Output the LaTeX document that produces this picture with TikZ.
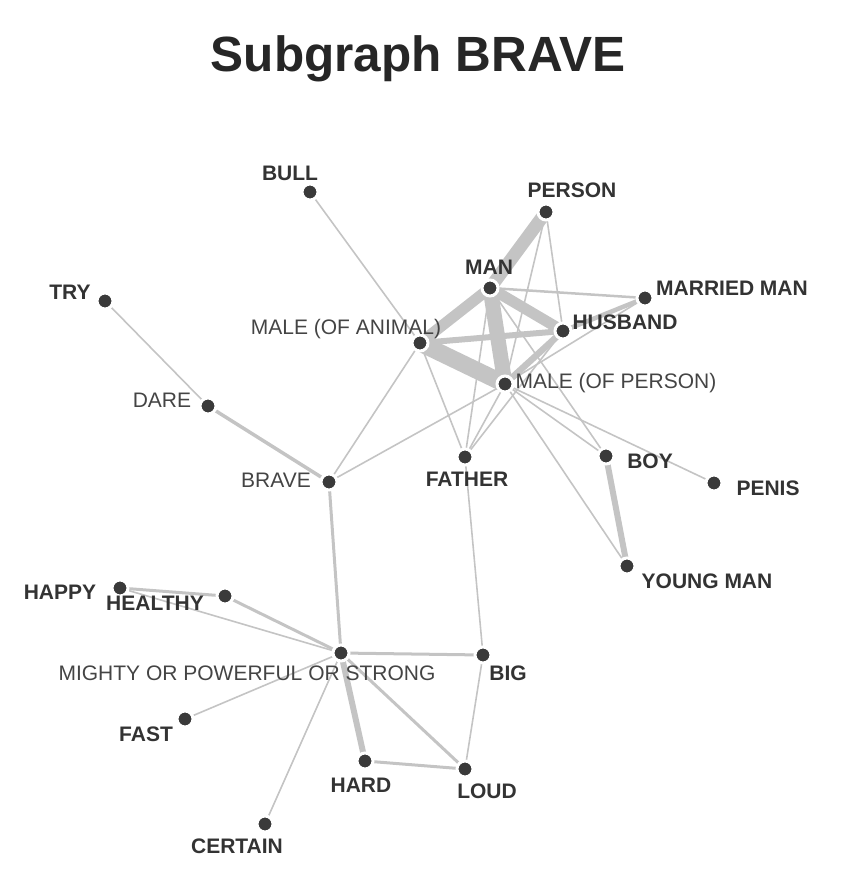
\documentclass[tikz,border=0pt]{standalone}
\usepackage{fontspec}
\setmainfont{Liberation Sans}
\usetikzlibrary{backgrounds}
\definecolor{edgec}{HTML}{C4C4C4}
\definecolor{dotc}{HTML}{3A3A3A}
\definecolor{txtc}{HTML}{333333}
\definecolor{txtl}{HTML}{444444}
\tikzset{
  dot/.style={circle,fill=dotc,draw=white,line width=3pt,minimum size=16pt,inner sep=0pt},
  lb/.style={anchor=base,text=txtc,font=\fontsize{21}{24}\selectfont\bfseries,inner sep=0pt},
  ln/.style={anchor=base,text=txtl,font=\fontsize{21}{24}\selectfont,inner sep=0pt},
  e/.style={draw=edgec,line width=1.6pt},
  em/.style={draw=edgec,line width=3.5pt},
  ew/.style={draw=edgec,line width=#1},
}
\begin{document}
\begin{tikzpicture}[x=1pt,y=-1pt]
\useasboundingbox (0,0) rectangle (840,882);
\node[anchor=base,text=black!85,font=\fontsize{49.5}{55}\selectfont\bfseries,inner sep=0pt] (title) at (418,72) {Subgraph BRAVE};
% nodes
\node[dot] (bull) at (310,192) {};
\node[dot] (person) at (546,212) {};
\node[dot] (try) at (105,301) {};
\node[dot] (man) at (490,288) {};
\node[dot] (married) at (645,298) {};
\node[dot] (husband) at (563,331) {};
\node[dot] (maleA) at (420,343) {};
\node[dot] (maleP) at (505,384) {};
\node[dot] (dare) at (208,406) {};
\node[dot] (boy) at (606,456) {};
\node[dot] (brave) at (329,482) {};
\node[dot] (father) at (465,457) {};
\node[dot] (penis) at (714,483) {};
\node[dot] (young) at (627,566) {};
\node[dot] (happy) at (120,588) {};
\node[dot] (healthy) at (225,596) {};
\node[dot] (mighty) at (341,653) {};
\node[dot] (big) at (483,655) {};
\node[dot] (fast) at (185,719) {};
\node[dot] (hard) at (365,761) {};
\node[dot] (loud) at (465,769) {};
\node[dot] (certain) at (265,824) {};
% labels
\node[lb] (tbull) at (290,181) {BULL};
\node[lb] (tperson) at (572,198) {PERSON};
\node[lb] (ttry) at (70,299) {TRY};
\node[lb] (tman) at (489,274) {MAN};
\node[lb] (tmarried) at (732,295) {MARRIED MAN};
\node[lb] (thusband) at (625,329) {HUSBAND};
\node[ln] (tmaleA) at (346,334) {MALE (OF ANIMAL)};
\node[ln] (tmaleP) at (616,388) {MALE (OF PERSON)};
\node[ln] (tdare) at (162,407) {DARE};
\node[lb] (tboy) at (650,468) {BOY};
\node[ln] (tbrave) at (276,487) {BRAVE};
\node[lb] (tfather) at (467,486) {FATHER};
\node[lb] (tpenis) at (768,495) {PENIS};
\node[lb] (tyoung) at (707,588) {YOUNG MAN};
\node[lb] (thappy) at (60,599) {HAPPY};
\node[lb] (thealthy) at (155,610) {HEALTHY};
\node[ln] (tmighty) at (247,680) {MIGHTY OR POWERFUL OR STRONG};
\node[lb] (tbig) at (508,680) {BIG};
\node[lb] (tfast) at (146,741) {FAST};
\node[lb] (thard) at (361,792) {HARD};
\node[lb] (tloud) at (487,798) {LOUD};
\node[lb] (tcertain) at (237,853) {CERTAIN};
% edges
\begin{scope}[on background layer]
\path[e] (bull.center) -- (maleA.center);
\path[ew=13pt] (person.center) -- (man.center);
\path[e] (person.center) -- (husband.center);
\path[e] (person.center) -- (maleP.center);
\path[ew=11pt] (man.center) -- (maleA.center);
\path[ew=15pt] (man.center) -- (maleP.center);
\path[ew=11pt] (man.center) -- (husband.center);
\path[ew=2.5pt] (man.center) -- (married.center);
\path[e] (man.center) -- (boy.center);
\path[e] (man.center) -- (father.center);
\path[ew=17pt] (maleA.center) -- (maleP.center);
\path[ew=6pt] (maleA.center) -- (husband.center);
\path[ew=6.5pt] (husband.center) -- (maleP.center);
\path[ew=4.5pt] (married.center) -- (husband.center);
\path[e] (married.center) -- (maleP.center);
\path[e] (husband.center) -- (father.center);
\path[e] (maleA.center) -- (father.center);
\path[e] (maleP.center) -- (father.center);
\path[e] (maleA.center) -- (brave.center);
\path[e] (maleP.center) -- (brave.center);
\path[e] (maleP.center) -- (boy.center);
\path[e] (maleP.center) -- (penis.center);
\path[e] (maleP.center) -- (young.center);
\path[ew=6pt] (boy.center) -- (young.center);
\path[e] (try.center) -- (dare.center);
\path[em] (dare.center) -- (brave.center);
\path[ew=3pt] (brave.center) -- (mighty.center);
\path[e] (father.center) -- (big.center);
\path[ew=3pt] (mighty.center) -- (big.center);
\path[e] (mighty.center) -- (happy.center);
\path[ew=3pt] (mighty.center) -- (healthy.center);
\path[ew=3pt] (happy.center) -- (healthy.center);
\path[e] (mighty.center) -- (fast.center);
\path[e] (mighty.center) -- (certain.center);
\path[ew=6pt] (mighty.center) -- (hard.center);
\path[ew=3pt] (mighty.center) -- (loud.center);
\path[ew=3pt] (hard.center) -- (loud.center);
\path[e] (big.center) -- (loud.center);
\end{scope}
\end{tikzpicture}
\end{document}
